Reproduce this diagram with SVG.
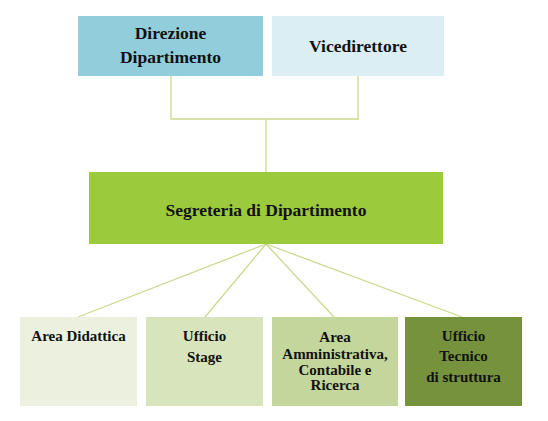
<svg xmlns="http://www.w3.org/2000/svg" width="548" height="421" viewBox="0 0 548 421">
<style>
text{font-family:'Liberation Serif','DejaVu Serif',serif;font-weight:bold;fill:#111;text-anchor:middle}
.t17{font-size:17.5px}
.t15{font-size:15px}
.conn{fill:none;stroke:#c9d98f;stroke-width:1.3}
</style>
<rect width="548" height="421" fill="#fff"/>
<g id="connectors">
<polyline class="conn" points="171,76 171,119 358,119 358,76"/>
<line class="conn" x1="266" y1="119" x2="266" y2="172"/>
<line class="conn" x1="266" y1="244" x2="78" y2="317"/>
<line class="conn" x1="266" y1="244" x2="205" y2="317"/>
<line class="conn" x1="266" y1="244" x2="334" y2="317"/>
<line class="conn" x1="266" y1="244" x2="462" y2="317"/>
</g>
<g id="direzione">
<rect x="78" y="16" width="185" height="60" fill="#92cddc"/>
<text class="t17" x="170.5" y="39">Direzione</text>
<text class="t17" x="170.5" y="63">Dipartimento</text>
</g>
<g id="vicedirettore">
<rect x="272" y="16" width="172" height="60" fill="#daeef3"/>
<text class="t17" x="358" y="52">Vicedirettore</text>
</g>
<g id="segreteria">
<rect x="89" y="172" width="354" height="72" fill="#9bcb3c"/>
<text class="t17" x="266" y="216">Segreteria di Dipartimento</text>
</g>
<g id="area-didattica">
<rect x="20" y="317" width="117" height="89" fill="#ebf1de"/>
<text class="t15" x="78.5" y="341">Area Didattica</text>
</g>
<g id="ufficio-stage">
<rect x="146" y="317" width="117" height="89" fill="#d7e4bc"/>
<text class="t15" x="204.5" y="341">Ufficio</text>
<text class="t15" x="204.5" y="362">Stage</text>
</g>
<g id="area-amministrativa">
<rect x="272" y="317" width="126" height="89" fill="#c3d69b"/>
<text class="t15" x="335" y="342">Area</text>
<text class="t15" x="335" y="359">Amministrativa,</text>
<text class="t15" x="335" y="375">Contabile e</text>
<text class="t15" x="335" y="390">Ricerca</text>
</g>
<g id="ufficio-tecnico">
<rect x="405" y="317" width="117" height="89" fill="#76923c"/>
<text class="t15" x="463.5" y="341">Ufficio</text>
<text class="t15" x="463.5" y="361">Tecnico</text>
<text class="t15" x="463.5" y="382">di struttura</text>
</g>
</svg>
